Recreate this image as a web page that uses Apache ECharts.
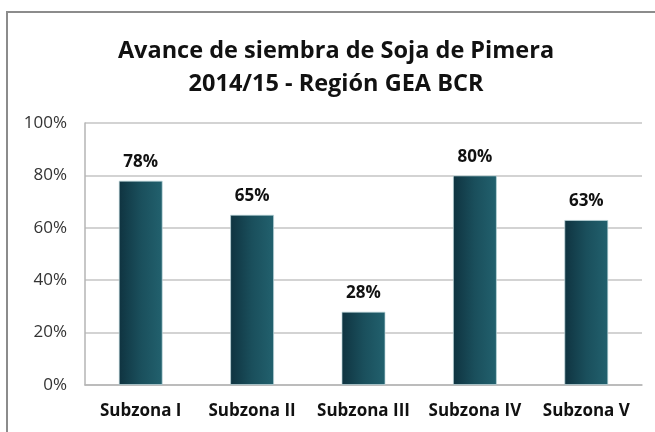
<!DOCTYPE html>
<html>
<head>
<meta charset="utf-8">
<script src="https://cdn.jsdelivr.net/npm/echarts@6/dist/echarts.min.js"></script>
<style>
  html, body { margin: 0; padding: 0; background: #fff; }
  #chart { width: 655px; height: 432px; }
</style>
</head>
<body>
<div id="chart"></div>
<script>
const categories = ["Subzona I", "Subzona II", "Subzona III", "Subzona IV", "Subzona V"];
const avance = [78, 65, 28, 80, 63];
const titleLines = ["Avance de siembra de Soja de Pimera", "2014/15 - Región GEA BCR"];

const font = "'Open Sans', 'Noto Sans', sans-serif";
const chart = echarts.init(document.getElementById("chart"), null, { renderer: "canvas" });

chart.setOption({
  animation: false,
  backgroundColor: "#ffffff",
  title: {
    text: titleLines.join("\n"),
    left: 331,
    top: 30,
    textAlign: "center",
    textStyle: { fontFamily: font, fontSize: 23.5, fontWeight: "bold", color: "#111", lineHeight: 33 },
  },
  graphic: [{
    type: "rect",
    shape: { x: 7, y: 12, width: 720, height: 500 },
    style: { fill: "none", stroke: "#8c8c8c", lineWidth: 2 },
    silent: true,
  }],
  grid: { left: 85, right: 13, top: 123, bottom: 47 },
  xAxis: {
    type: "category",
    data: categories,
    axisTick: { show: false },
    axisLine: { lineStyle: { color: "#b5b5b5", width: 1.5 } },
    axisLabel: { interval: 0, fontFamily: font, fontSize: 17, fontWeight: "bold", color: "#111", margin: 18 },
  },
  yAxis: {
    type: "value",
    min: 0,
    max: 100,
    interval: 20,
    axisLine: { show: true, lineStyle: { color: "#b5b5b5", width: 1.5 } },
    axisTick: { show: false },
    splitLine: { lineStyle: { color: "#c4c4c4", width: 1.5 } },
    axisLabel: { fontFamily: font, fontSize: 17, color: "#333", margin: 18, formatter: "{value}%" },
  },
  series: [{
    type: "bar",
    data: avance,
    barWidth: "39.5%",
    itemStyle: {
      color: new echarts.graphic.LinearGradient(0, 0, 1, 0, [
        { offset: 0, color: "#0f3340" },
        { offset: 0.5, color: "#1a4f5c" },
        { offset: 1, color: "#22616e" },
      ]),
      borderColor: "rgba(190,215,220,0.7)",
      borderWidth: 1,
    },
    label: {
      show: true,
      position: "top",
      distance: 10,
      formatter: "{c}%",
      fontFamily: font,
      fontSize: 17,
      fontWeight: "bold",
      color: "#111",
    },
  }],
});
</script>
</body>
</html>
